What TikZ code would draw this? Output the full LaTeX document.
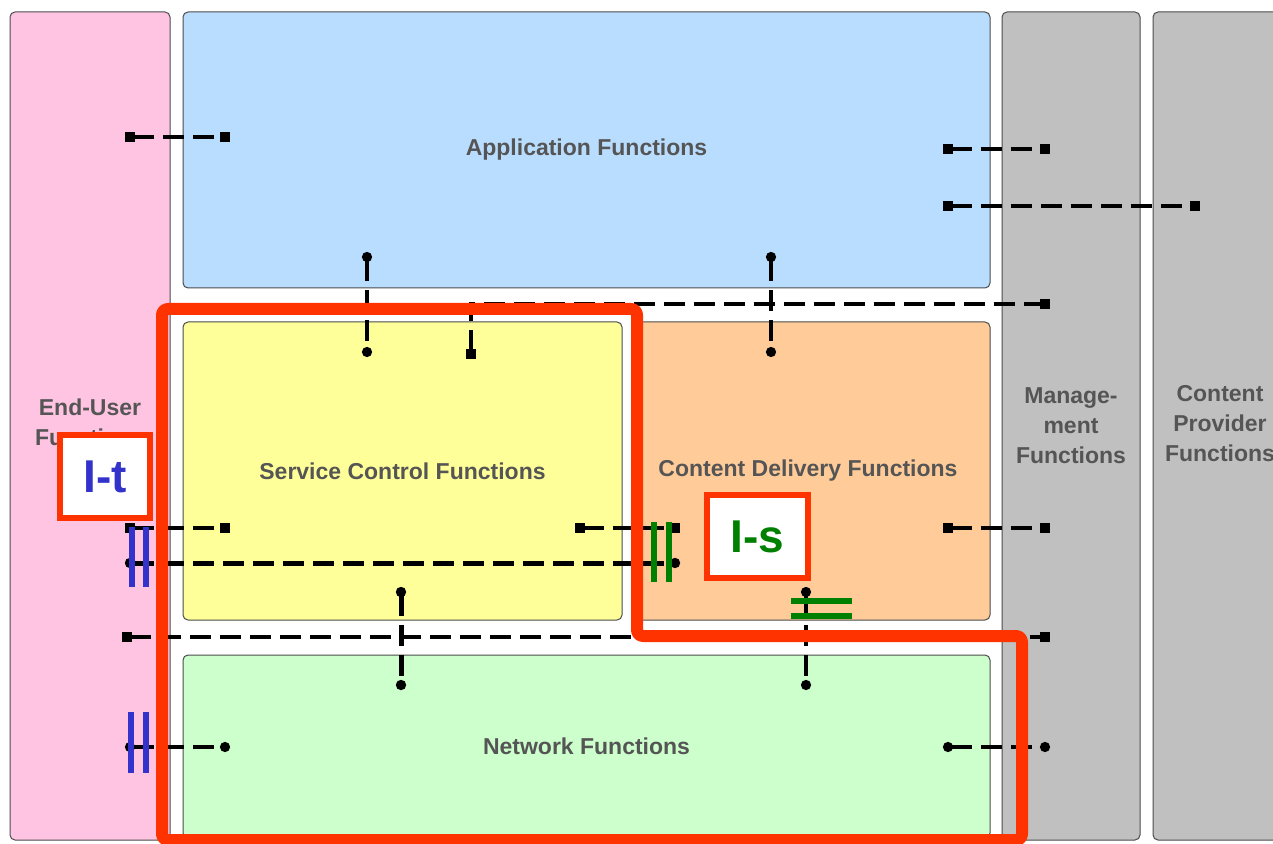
\documentclass[tikz,border=0pt]{standalone}
\usepackage{fontspec}
\setmainfont{Liberation Sans}
\usetikzlibrary{arrows.meta,fit}

\definecolor{eupink}{RGB}{255,196,225}
\definecolor{appblue}{RGB}{185,221,255}
\definecolor{scfyellow}{RGB}{255,255,153}
\definecolor{cdforange}{RGB}{255,204,153}
\definecolor{netgreen}{RGB}{204,255,204}
\definecolor{mgmtgray}{RGB}{192,192,192}
\definecolor{refred}{RGB}{255,51,0}
\definecolor{itblue}{RGB}{51,51,204}
\definecolor{isgreen}{RGB}{0,128,0}
\definecolor{labelgray}{RGB}{85,85,85}

\tikzset{
  block/.style={draw=black!70, line width=0.5pt, rounded corners=2.5pt, inner sep=0pt},
  blocktext/.style={text=labelgray, font=\fontsize{11.5}{15}\selectfont\bfseries, align=center},
  link/.style={line width=1.7pt, dash pattern=on 10.5pt off 4.5pt,
    {Square[length=4.8pt,width=4.8pt]}-{Square[length=4.8pt,width=4.8pt]}},
  dotlink/.style={line width=1.7pt, dash pattern=on 10.5pt off 4.5pt,
    {Circle[length=5pt]}-{Circle[length=5pt]}},
  heavy/.style={line width=2.5pt},
  ifbar/.style={line width=3pt},
  ifbox/.style={draw=refred, line width=3pt, fill=white, inner sep=0pt},
  iftext/.style={font=\fontsize{23}{27}\selectfont\bfseries}
}

\begin{document}
\begin{tikzpicture}[x=0.5pt,y=-0.5pt]
\clip (0,0) rectangle (1273,844);
\fill[white] (0,0) rectangle (1273,844);

% functional groups
\node[block,fill=eupink,fit={(10,12)(170,840)}] (eu) {};
\node[block,fill=appblue,fit={(183,12)(990,288)}] (app) {};
\node[block,fill=scfyellow,fit={(183,322)(622,620)}] (scf) {};
\node[block,fill=cdforange,fit={(637,322)(990,620)}] (cdf) {};
\node[block,fill=netgreen,fit={(183,655)(990,838)}] (net) {};
\node[block,fill=mgmtgray,fit={(1002,12)(1140,840)}] (mgmt) {};
\node[block,fill=mgmtgray,fit={(1153,12)(1292,840)}] (cpf) {};

\node[blocktext] (eutext) at (90,422) {End-User\\Functions};
\node[blocktext] (apptext) at (app) {Application Functions};
\node[blocktext] (scftext) at (scf) {Service Control Functions};
\node[blocktext] (cdftext) at (808,471) {Content Delivery Functions};
\node[blocktext] (nettext) at (net) {Network Functions};
\node[blocktext] (mgmttext) at (mgmt) {Manage-\\ment\\Functions};
\node[blocktext] (cpftext) at (1220,424) {Content\\Provider\\Functions};

% reference point ends
\coordinate (euA) at (125,137);  \coordinate (appA) at (230,137);
\coordinate (appB) at (943,149); \coordinate (mgA) at (1050,149);
\coordinate (appC) at (943,206); \coordinate (cpA) at (1200,206);
\coordinate (appD) at (367,252); \coordinate (scA) at (367,357);
\coordinate (appE) at (771,252); \coordinate (cdA) at (771,357);
\coordinate (scB) at (471,359);  \coordinate (mgB) at (1050,304);
\coordinate (euB) at (125,528);  \coordinate (scC) at (230,528);
\coordinate (scD) at (575,528);  \coordinate (cdB) at (680,528);
\coordinate (euC) at (125,563);  \coordinate (cdC) at (680,563);
\coordinate (cdD) at (943,528);  \coordinate (mgC) at (1050,528);
\coordinate (scE) at (401,587);  \coordinate (ntA) at (401,690);
\coordinate (cdE) at (806,587);  \coordinate (ntB) at (806,690);
\coordinate (euD) at (122,637);  \coordinate (mgD) at (1050,637);
\coordinate (euE) at (125,747);  \coordinate (ntC) at (230,747);
\coordinate (ntD) at (943,747);  \coordinate (mgE) at (1050,747);

% interfaces between the groups
\draw[link] (euA) -- (appA);
\draw[link] (appB) -- (mgA);
\draw[link] (appC) -- (cpA);
\draw[dotlink] (appD) -- (scA);
\draw[dotlink] (appE) -- (cdA);
\draw[link] (scB) |- (mgB);
\draw[link] (euB) -- (scC);
\draw[link] (scD) -- (cdB);
\draw[dotlink,heavy] (euC) -- (cdC);
\draw[link] (cdD) -- (mgC);
\draw[dotlink,heavy] (scE) -- (ntA);
\draw[dotlink] (cdE) -- (ntB);
\draw[link] (euD) -- (mgD);
\draw[dotlink] (euE) -- (ntC);
\draw[dotlink] (ntD) -- (mgE);

% interface marks
\draw[ifbar,itblue] (131.5,527) -- (131.5,587) (146,527) -- (146,587);
\draw[ifbar,itblue] (131,712) -- (131,773) (145.5,712) -- (145.5,773);
\draw[ifbar,isgreen] (653.5,522) -- (653.5,582) (668.5,522) -- (668.5,582);
\draw[ifbar,isgreen] (791,601) -- (852,601) (791,616) -- (852,616);

% reference point boundary
\draw[refred,line width=6pt,rounded corners=3pt,line join=round]
  (162,309) -- (637,309) -- (637,636) -- (1022,636) -- (1022,840) -- (162,840) -- cycle;

\node[ifbox,fit={(60,435)(150,518)}] (itbox) {};
\node[iftext,text=itblue] (ittext) at (itbox) {I-t};
\node[ifbox,fit={(707,495)(808,578)}] (isbox) {};
\node[iftext,text=isgreen] (istext) at (isbox) {I-s};
\end{tikzpicture}
\end{document}
